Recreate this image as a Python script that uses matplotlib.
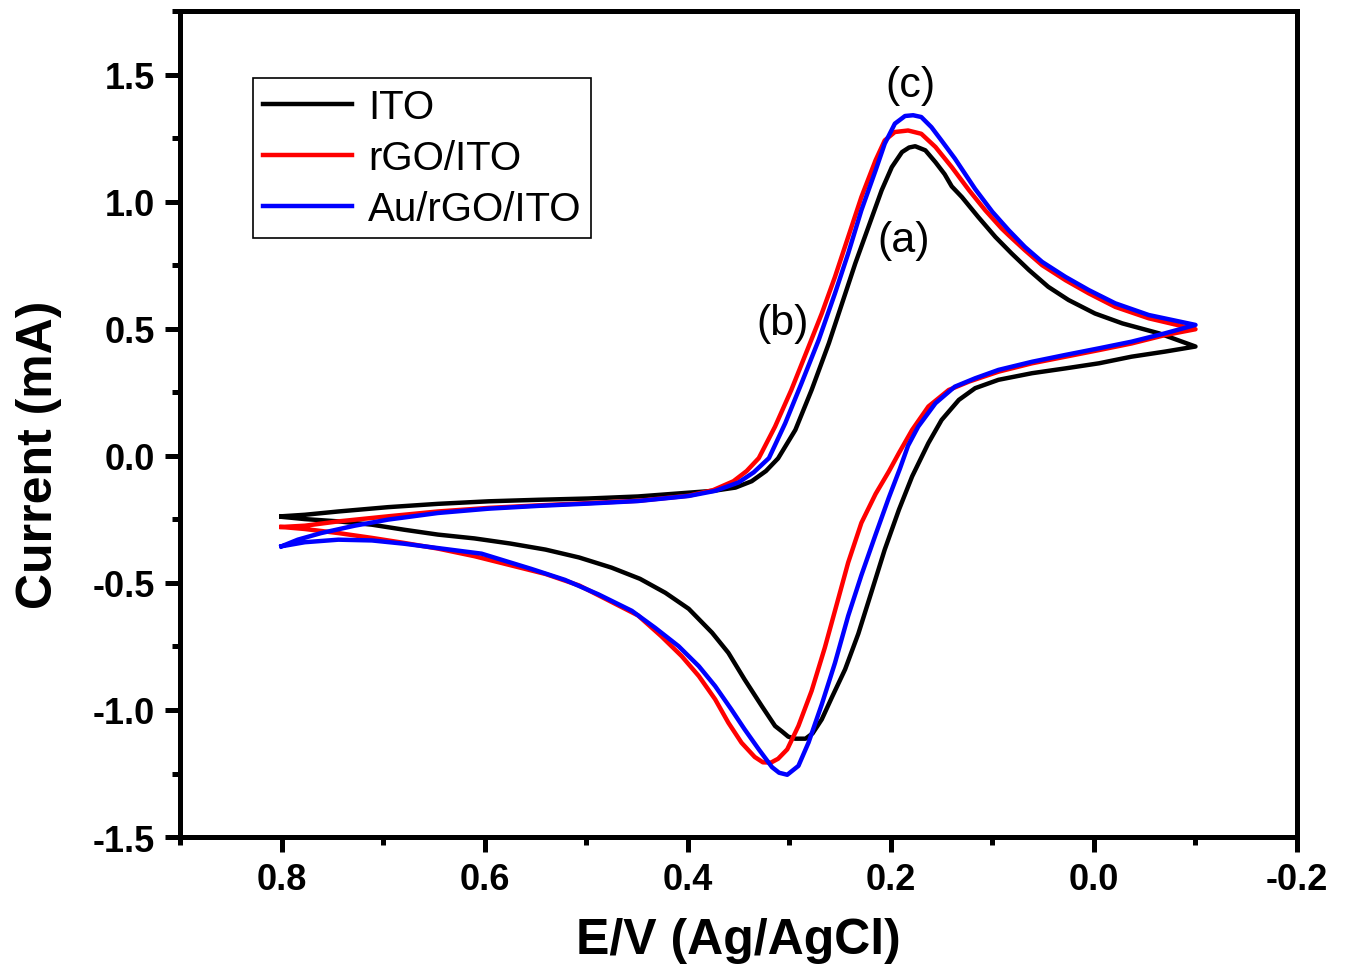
# Cyclic voltammograms of ITO, rGO/ITO and Au/rGO/ITO electrodes

import matplotlib
matplotlib.use("Agg")
import matplotlib.pyplot as plt
from matplotlib.ticker import MultipleLocator

plt.rcParams['font.family'] = ['Liberation Sans', 'DejaVu Sans']
plt.rcParams['axes.unicode_minus'] = False

# potential (V) and current (mA), forward scan 0.8 -> -0.1 then reverse -0.1 -> 0.8
ito_E = [0.800, 0.777, 0.744, 0.695, 0.646, 0.596, 0.547, 0.498, 0.449, 0.399, 0.375, 0.353,
         0.337, 0.323, 0.311, 0.294, 0.278, 0.261, 0.248, 0.235, 0.222, 0.209, 0.199, 0.189,
         0.182, 0.176, 0.166, 0.156, 0.147, 0.140, 0.130, 0.114, 0.097, 0.081, 0.064, 0.045,
         0.025, -0.001, -0.028, -0.064, -0.100,
         -0.070, -0.037, -0.005, 0.028, 0.061, 0.094, 0.117, 0.133, 0.150, 0.163, 0.179, 0.192,
         0.206, 0.219, 0.232, 0.245, 0.258, 0.268, 0.277, 0.284, 0.294, 0.301, 0.307, 0.314,
         0.327, 0.344, 0.360, 0.376, 0.399, 0.422, 0.447, 0.475, 0.507, 0.540, 0.575, 0.610,
         0.646, 0.679, 0.711, 0.744, 0.777, 0.800]
ito_I = [-0.238, -0.232, -0.219, -0.202, -0.189, -0.179, -0.173, -0.168, -0.160, -0.145, -0.138, -0.125,
         -0.100, -0.060, -0.010, 0.102, 0.259, 0.443, 0.600, 0.757, 0.901, 1.045, 1.136, 1.195,
         1.213, 1.218, 1.202, 1.155, 1.108, 1.060, 1.018, 0.940, 0.861, 0.796, 0.731, 0.665,
         0.613, 0.560, 0.521, 0.482, 0.430,
         0.410, 0.390, 0.364, 0.344, 0.325, 0.299, 0.266, 0.220, 0.141, 0.050, -0.081, -0.212,
         -0.369, -0.535, -0.700, -0.840, -0.950, -1.037, -1.092, -1.113, -1.113, -1.105, -1.085, -1.063,
         -0.985, -0.880, -0.775, -0.696, -0.602, -0.539, -0.484, -0.440, -0.400, -0.369, -0.345, -0.325,
         -0.310, -0.291, -0.271, -0.258, -0.249, -0.240]

rgo_E = [0.800, 0.777, 0.744, 0.695, 0.646, 0.596, 0.547, 0.498, 0.449, 0.399, 0.375, 0.355,
         0.342, 0.330, 0.314, 0.298, 0.281, 0.268, 0.255, 0.242, 0.229, 0.215, 0.206, 0.196,
         0.183, 0.170, 0.156, 0.140, 0.123, 0.107, 0.091, 0.084, 0.068, 0.051, 0.028, 0.005,
         -0.021, -0.054, -0.100,
         -0.070, -0.037, -0.005, 0.028, 0.061, 0.094, 0.123, 0.143, 0.163, 0.179, 0.192, 0.202,
         0.215, 0.229, 0.242, 0.252, 0.265, 0.278, 0.291, 0.302, 0.311, 0.318, 0.326, 0.334,
         0.347, 0.360, 0.373, 0.389, 0.406, 0.426, 0.449, 0.475, 0.507, 0.540, 0.575, 0.610,
         0.646, 0.679, 0.711, 0.744, 0.777, 0.800]
rgo_I = [-0.280, -0.275, -0.258, -0.238, -0.219, -0.205, -0.195, -0.186, -0.177, -0.157, -0.135, -0.100,
         -0.060, -0.009, 0.115, 0.259, 0.429, 0.560, 0.704, 0.861, 1.018, 1.163, 1.241, 1.274,
         1.280, 1.267, 1.215, 1.136, 1.045, 0.966, 0.895, 0.868, 0.809, 0.750, 0.691, 0.639,
         0.586, 0.541, 0.498,
         0.475, 0.442, 0.416, 0.390, 0.364, 0.331, 0.292, 0.259, 0.194, 0.102, 0.011, -0.062,
         -0.150, -0.264, -0.420, -0.566, -0.755, -0.925, -1.063, -1.155, -1.192, -1.207, -1.206, -1.185,
         -1.129, -1.050, -0.958, -0.867, -0.788, -0.710, -0.628, -0.575, -0.510, -0.465, -0.430, -0.395,
         -0.365, -0.343, -0.323, -0.304, -0.288, -0.280]

au_E = [0.800, 0.784, 0.761, 0.728, 0.695, 0.646, 0.596, 0.547, 0.498, 0.449, 0.399, 0.373,
        0.350, 0.335, 0.320, 0.304, 0.288, 0.271, 0.255, 0.242, 0.229, 0.215, 0.206, 0.196,
        0.186, 0.178, 0.170, 0.160, 0.150, 0.137, 0.117, 0.100, 0.084, 0.068, 0.051, 0.028,
        0.005, -0.021, -0.054, -0.100,
        -0.070, -0.037, -0.005, 0.028, 0.061, 0.094, 0.117, 0.137, 0.156, 0.173, 0.183, 0.191,
        0.202, 0.215, 0.229, 0.242, 0.255, 0.268, 0.281, 0.291, 0.302, 0.310, 0.317, 0.330,
        0.344, 0.357, 0.373, 0.389, 0.409, 0.432, 0.455, 0.488, 0.521, 0.554, 0.603, 0.646,
        0.679, 0.711, 0.744, 0.777, 0.800]
au_I = [-0.356, -0.330, -0.304, -0.275, -0.251, -0.225, -0.208, -0.197, -0.188, -0.178, -0.158, -0.138,
        -0.105, -0.065, -0.009, 0.128, 0.285, 0.456, 0.639, 0.796, 0.966, 1.123, 1.228, 1.307,
        1.337, 1.340, 1.333, 1.293, 1.240, 1.170, 1.050, 0.960, 0.888, 0.822, 0.763, 0.704,
        0.652, 0.600, 0.554, 0.515,
        0.482, 0.449, 0.423, 0.397, 0.370, 0.338, 0.305, 0.272, 0.207, 0.115, 0.040, -0.050,
        -0.165, -0.310, -0.470, -0.630, -0.815, -0.978, -1.128, -1.220, -1.255, -1.247, -1.225, -1.155,
        -1.076, -0.998, -0.906, -0.828, -0.749, -0.677, -0.610, -0.545, -0.488, -0.445, -0.385, -0.363,
        -0.346, -0.333, -0.330, -0.340, -0.356]

fig = plt.figure(figsize=(13.47, 9.78), dpi=100)
ax = fig.add_axes([0.1336, 0.1431, 0.8293, 0.8446])

ax.plot(ito_E, ito_I, color='black', lw=3.2, label='ITO', solid_joinstyle='round')
ax.plot(rgo_E, rgo_I, color='red', lw=3.2, label='rGO/ITO', solid_joinstyle='round')
ax.plot(au_E, au_I, color='blue', lw=3.2, label='Au/rGO/ITO', solid_joinstyle='round')

ax.text(0.181, 1.457, '(c)', fontsize=31, ha='center', va='center')
ax.text(0.187, 0.848, '(a)', fontsize=31, ha='center', va='center')
ax.text(0.307, 0.522, '(b)', fontsize=31, ha='center', va='center')

ax.set_xlim(0.9, -0.2)
ax.set_ylim(-1.5, 1.75)
ax.xaxis.set_major_locator(MultipleLocator(0.2))
ax.xaxis.set_minor_locator(MultipleLocator(0.1))
ax.yaxis.set_major_locator(MultipleLocator(0.5))
ax.yaxis.set_minor_locator(MultipleLocator(0.25))

for s in ax.spines.values():
    s.set_linewidth(3.6)
ax.tick_params(which='major', direction='out', length=11, width=3.6, labelsize=26, pad=7)
ax.tick_params(which='minor', direction='out', length=6, width=3.6)
for lbl in ax.get_xticklabels() + ax.get_yticklabels():
    lbl.set_fontweight('bold')

ax.set_xlabel('E/V (Ag/AgCl)', fontsize=36, fontweight='bold')
ax.set_ylabel('Current (mA)', fontsize=36, fontweight='bold')
ax.xaxis.set_label_coords(0.5, -0.097)
ax.yaxis.set_label_coords(-0.106, 0.464)

leg = ax.legend(loc='upper left', bbox_to_anchor=(0.0654, 0.919), borderaxespad=0,
                fontsize=29, handlelength=2.2, handletextpad=0.4, borderpad=0.25,
                labelspacing=0.32, fancybox=False, edgecolor='black', framealpha=1)
leg.get_frame().set_linewidth(1.2)

plt.savefig('out.png', dpi=100)
